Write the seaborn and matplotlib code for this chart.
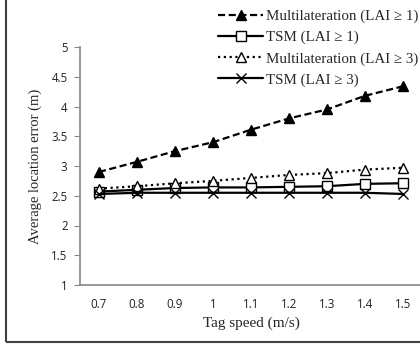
import matplotlib
matplotlib.use("Agg")
import matplotlib.pyplot as plt
from matplotlib.patches import Rectangle
import numpy as np
import pandas as pd
import seaborn as sns

speed = [0.7, 0.8, 0.9, 1.0, 1.1, 1.2, 1.3, 1.4, 1.5]
speed_labels = ["0.7", "0.8", "0.9", "1", "1.1", "1.2", "1.3", "1.4", "1.5"]

multi_lai1 = [2.90, 3.07, 3.25, 3.40, 3.61, 3.80, 3.95, 4.18, 4.34]
tsm_lai1 = [2.57, 2.60, 2.63, 2.64, 2.64, 2.65, 2.66, 2.70, 2.71]
multi_lai3 = [2.62, 2.66, 2.71, 2.75, 2.80, 2.85, 2.88, 2.94, 2.97]
tsm_lai3 = [2.53, 2.55, 2.55, 2.55, 2.55, 2.55, 2.55, 2.55, 2.53]

yticks = [1, 1.5, 2, 2.5, 3, 3.5, 4, 4.5, 5]
ytick_labels = ["1", "1.5", "2", "2.5", "3", "3.5", "4", "4.5", "5"]

series = [
    ("Multilateration (LAI \u2265 1)", multi_lai1, dict(marker="^", markersize=7, markerfacecolor="black", linestyle=(0, (3.2, 1.6)))),
    ("TSM (LAI \u2265 1)", tsm_lai1, dict(marker="s", markersize=6.5, markerfacecolor="white", linestyle="-")),
    ("Multilateration (LAI \u2265 3)", multi_lai3, dict(marker="^", markersize=7.5, markerfacecolor="white", linestyle=(0, (1, 1.6)))),
    ("TSM (LAI \u2265 3)", tsm_lai3, dict(marker="x", markersize=6.5, markerfacecolor="black", linestyle="-")),
]

sns.set_style("white")
plt.rcParams["font.family"] = ["Liberation Serif", "DejaVu Serif"]

fig = plt.figure(figsize=(4.2, 3.45), dpi=100)
ax = fig.add_axes([80 / 420, 1 - 285 / 345, 342 / 420, 238 / 345])

for name, vals, style in series:
    df = pd.DataFrame({"speed": speed, "err": vals})
    sns.lineplot(data=df, x="speed", y="err", ax=ax, color="black", linewidth=1.6,
                 markeredgecolor="black", markeredgewidth=1.0, label=name,
                 dash_capstyle="butt", **style)

ax.set_xlim(0.65, 1.55)
ax.set_ylim(1, 5)
ax.set_xticks(speed)
ax.set_xticklabels(speed_labels)
ax.set_xticks(np.arange(0.75, 1.55, 0.1), minor=True)
ax.set_yticks(yticks)
ax.set_yticklabels(ytick_labels)

for lab in ax.get_xticklabels() + ax.get_yticklabels():
    lab.set_fontfamily("Open Sans")
    lab.set_fontsize(8.3)
    lab.set_color("#222222")

ax.tick_params(axis="x", which="major", length=0, pad=9)
ax.tick_params(axis="x", which="minor", direction="in", length=4, width=0.8, color="#868686")
ax.tick_params(axis="y", which="major", direction="out", length=4, width=0.8, color="#868686", pad=5, left=True)

for s in ["top", "right"]:
    ax.spines[s].set_visible(False)
for s in ["left", "bottom"]:
    ax.spines[s].set_color("#868686")
    ax.spines[s].set_linewidth(1.2)

ax.set_xlabel("Tag speed (m/s)", fontsize=11, labelpad=4)
ax.set_ylabel("Average location error (m)", fontsize=10.5, labelpad=7)

leg = ax.legend(loc="upper right", bbox_to_anchor=(1.0, 1 - 8 / 345), bbox_transform=fig.transFigure,
                frameon=False, fontsize=10.8, handlelength=3.0, handletextpad=0.2,
                labelspacing=0.5, borderpad=0.1, borderaxespad=0.0)

fig.add_artist(Rectangle((6 / 420, 3 / 345), 2, 2, transform=fig.transFigure,
                         fill=False, edgecolor="#404040", linewidth=1.5, clip_on=False))

fig.savefig("out.png", dpi=100)
